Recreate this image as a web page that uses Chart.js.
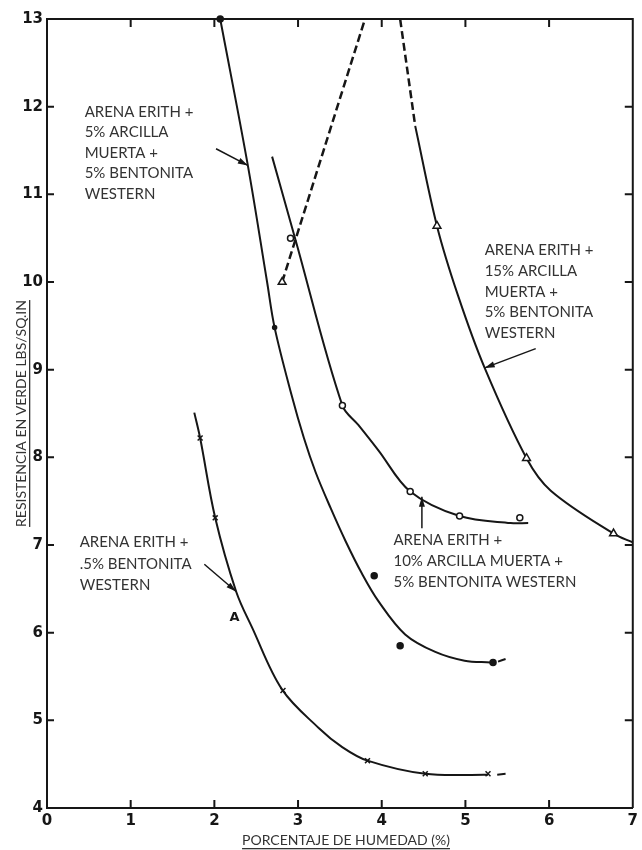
<!DOCTYPE html>
<html>
<head>
<meta charset="utf-8">
<title>Resistencia en verde vs humedad</title>
<script src="https://cdn.jsdelivr.net/npm/chart.js@4.4.1/dist/chart.umd.min.js"></script>
<style>
 body{margin:0;background:#fff;}
 canvas{display:block;}
</style>
</head>
<body>
<canvas id="grafico" width="642" height="850"></canvas>
<script>
// ejes
const xTicks = [0, 1, 2, 3, 4, 5, 6, 7];
const yTicks = [4, 5, 6, 7, 8, 9, 10, 11, 12, 13];

// arena erith + 5% bentonita western (cruces)
const c1X = [1.76, 1.83, 2.01, 2.26, 2.45, 2.81, 3.25, 3.52, 3.83, 4.52, 5.27];
const c1Y = [8.51, 8.22, 7.31, 6.47, 6.06, 5.35, 4.91, 4.70, 4.54, 4.39, 4.38];
const c1ColaX = [5.38, 5.48];
const c1ColaY = [4.38, 4.39];
const c1MarcaX = [1.83, 2.01, 2.82, 3.83, 4.52, 5.27];
const c1MarcaY = [8.22, 7.31, 5.34, 4.54, 4.39, 4.39];

// + 5% arcilla muerta + 5% bentonita (puntos llenos)
const c2X = [2.07, 2.40, 2.63, 2.72, 2.92, 3.07, 3.21, 3.39, 3.57, 3.76, 3.96, 4.28, 4.64, 4.99, 5.30];
const c2Y = [13.0, 11.33, 10.0, 9.48, 8.72, 8.22, 7.83, 7.42, 7.04, 6.68, 6.36, 5.98, 5.78, 5.68, 5.66];
const c2ColaX = [5.39, 5.48];
const c2ColaY = [5.67, 5.70];
const c2MarcaX = [2.07, 2.72, 3.91, 4.22, 5.33];
const c2MarcaY = [13.0, 9.48, 6.65, 5.85, 5.66];

// + 10% arcilla muerta + 5% bentonita (circulos abiertos)
const c3X = [2.69, 2.97, 3.53, 3.72, 3.96, 4.34, 4.93, 5.54, 5.75];
const c3Y = [11.43, 10.48, 8.59, 8.37, 8.08, 7.61, 7.33, 7.25, 7.25];
const c3MarcaX = [2.91, 3.53, 4.34, 4.93, 5.65];
const c3MarcaY = [10.5, 8.59, 7.61, 7.33, 7.31];

// + 15% arcilla muerta + 5% bentonita (triangulos)
const c4SubeX = [2.81, 3.80];
const c4SubeY = [10.0, 13.0];
const c4BajaX = [4.22, 4.40];
const c4BajaY = [13.0, 11.78];
const c4X = [4.40, 4.66, 4.91, 5.23, 5.73, 6.02, 6.77, 7.0];
const c4Y = [11.78, 10.64, 9.85, 9.02, 7.99, 7.62, 7.13, 7.03];
const c4MarcaX = [2.81, 4.66, 5.73, 6.77];
const c4MarcaY = [10.0, 10.64, 7.99, 7.13];

const notaA = ['ARENA ERITH +', '5% ARCILLA', 'MUERTA +', '5% BENTONITA', 'WESTERN'];
const notaB = ['ARENA ERITH +', '15% ARCILLA', 'MUERTA +', '5% BENTONITA', 'WESTERN'];
const notaC = ['ARENA ERITH +', '10% ARCILLA MUERTA +', '5% BENTONITA WESTERN'];
const notaD = ['ARENA ERITH +', '.5% BENTONITA', 'WESTERN'];
const tituloX = 'PORCENTAJE DE HUMEDAD (%)';
const tituloY = 'RESISTENCIA EN VERDE LBS/SQ.IN';

const INK = '#161616';
const TXT = '#333333';

const pts = (xs, ys) => xs.map((x, i) => ({x: x, y: ys[i]}));

function linea(xs, ys, extra) {
  return Object.assign({
    data: pts(xs, ys), showLine: true, borderColor: INK, borderWidth: 2,
    pointRadius: 0, tension: 0.35, clip: false, order: 1
  }, extra || {});
}
function marcas(xs, ys, estilo, extra) {
  return Object.assign({
    data: pts(xs, ys), showLine: false, pointStyle: estilo, pointRadius: 3.5,
    borderColor: INK, backgroundColor: '#fff', pointBorderWidth: 1.5, clip: false, order: 0
  }, extra || {});
}

// notas: texto, posicion en datos, flecha (cola -> punta)
const notas = [
  {lineas: notaA, x: 0.45, y: 11.94, paso: 20.5, cola: [2.02, 11.52], punta: [2.40, 11.33]},
  {lineas: notaB, x: 5.23, y: 10.36, paso: 20.7, cola: [5.84, 9.24], punta: [5.23, 9.02]},
  {lineas: notaC, x: 4.14, y: 7.06, paso: 21, cola: [4.48, 7.19], punta: [4.48, 7.55]},
  {lineas: notaD, x: 0.39, y: 7.03, paso: 21.5, cola: [1.88, 6.78], punta: [2.26, 6.47]}
];

function flecha(ctx, x0, y0, x1, y1) {
  const ang = Math.atan2(y1 - y0, x1 - x0);
  ctx.beginPath();
  ctx.moveTo(x0, y0);
  ctx.lineTo(x1, y1);
  ctx.stroke();
  ctx.beginPath();
  ctx.moveTo(x1, y1);
  ctx.lineTo(x1 - 10 * Math.cos(ang) + 3 * Math.sin(ang), y1 - 10 * Math.sin(ang) - 3 * Math.cos(ang));
  ctx.lineTo(x1 - 10 * Math.cos(ang) - 3 * Math.sin(ang), y1 - 10 * Math.sin(ang) + 3 * Math.cos(ang));
  ctx.closePath();
  ctx.fill();
}

function subrayado(ctx, txt, cx, cy) {
  ctx.textAlign = 'center';
  ctx.textBaseline = 'middle';
  ctx.fillText(txt, cx, cy);
  const w = ctx.measureText(txt).width;
  ctx.fillRect(cx - w / 2, cy + 8, w, 1.3);
}

const marco = {
  id: 'marco',
  afterDatasetsDraw(chart) {
    const ctx = chart.ctx, a = chart.chartArea;
    const sx = chart.scales.x, sy = chart.scales.y;
    ctx.save();
    ctx.strokeStyle = INK;
    ctx.fillStyle = INK;
    ctx.lineWidth = 2;
    ctx.beginPath();
    ctx.moveTo(a.left, a.top);
    ctx.lineTo(a.right, a.top);
    ctx.lineTo(a.right, a.bottom);
    xTicks.slice(1, -1).forEach(v => {
      const px = sx.getPixelForValue(v);
      ctx.moveTo(px, a.bottom); ctx.lineTo(px, a.bottom - 8);
      ctx.moveTo(px, a.top); ctx.lineTo(px, a.top + 8);
    });
    yTicks.slice(1, -1).forEach(v => {
      const py = sy.getPixelForValue(v);
      ctx.moveTo(a.left, py); ctx.lineTo(a.left + 7, py);
      ctx.moveTo(a.right, py); ctx.lineTo(a.right - 8, py);
    });
    ctx.stroke();

    // notas y flechas
    ctx.lineWidth = 1.5;
    notas.forEach(n => {
      ctx.fillStyle = TXT;
      ctx.font = '15px Lato';
      ctx.textAlign = 'left';
      ctx.textBaseline = 'middle';
      const x0 = sx.getPixelForValue(n.x), y0 = sy.getPixelForValue(n.y);
      n.lineas.forEach((t, i) => ctx.fillText(t, x0, y0 + i * n.paso));
      ctx.fillStyle = INK;
      flecha(ctx, sx.getPixelForValue(n.cola[0]), sy.getPixelForValue(n.cola[1]),
        sx.getPixelForValue(n.punta[0]), sy.getPixelForValue(n.punta[1]));
    });
    ctx.font = 'bold 13px "DejaVu Sans"';
    ctx.textAlign = 'center';
    ctx.fillStyle = INK;
    ctx.fillText('A', sx.getPixelForValue(2.24), sy.getPixelForValue(6.17));

    // titulos de ejes
    ctx.fillStyle = TXT;
    ctx.font = '14px Lato';
    subrayado(ctx, tituloX, 346, a.bottom + 32);
    ctx.translate(21, (a.top + a.bottom) / 2);
    ctx.rotate(-Math.PI / 2);
    subrayado(ctx, tituloY, 0, 0);
    ctx.restore();
  }
};

const tickFont = {family: '"DejaVu Sans"', size: 15, weight: 'bold'};

new Chart(document.getElementById('grafico'), {
  type: 'scatter',
  data: {
    datasets: [
      marcas(c1MarcaX, c1MarcaY, 'crossRot', {pointRadius: 3.5}),
      marcas(c2MarcaX, c2MarcaY, 'circle', {backgroundColor: INK, pointRadius: [3, 2, 3, 3, 3]}),
      marcas(c3MarcaX, c3MarcaY, 'circle', {pointRadius: 3}),
      marcas(c4MarcaX, c4MarcaY, 'triangle', {pointRadius: 4.5}),
      linea(c1X, c1Y),
      linea(c1ColaX, c1ColaY),
      linea(c2X, c2Y),
      linea(c2ColaX, c2ColaY),
      linea(c3X, c3Y),
      linea(c4SubeX, c4SubeY, {borderDash: [8, 4], borderWidth: 2.5}),
      linea(c4BajaX, c4BajaY, {borderDash: [8, 4], borderWidth: 2.5}),
      linea(c4X, c4Y)
    ]
  },
  options: {
    responsive: false,
    animation: false,
    devicePixelRatio: 1,
    layout: {padding: {top: 19, right: 6, left: 0, bottom: 0}},
    plugins: {legend: {display: false}, tooltip: {enabled: false}},
    scales: {
      x: {
        type: 'linear', min: 0, max: 7,
        afterBuildTicks: s => { s.ticks = xTicks.map(v => ({value: v})); },
        afterFit: s => { s.height = 42; },
        grid: {display: false, drawTicks: false},
        border: {display: true, color: INK, width: 2},
        ticks: {font: tickFont, color: INK, padding: 4}
      },
      y: {
        type: 'linear', min: 4, max: 13,
        afterBuildTicks: s => { s.ticks = yTicks.map(v => ({value: v})); },
        afterFit: s => { s.width = 47; },
        grid: {display: false, drawTicks: false},
        border: {display: true, color: INK, width: 2},
        ticks: {font: tickFont, color: INK, padding: 4}
      }
    }
  },
  plugins: [marco]
});
</script>
</body>
</html>
